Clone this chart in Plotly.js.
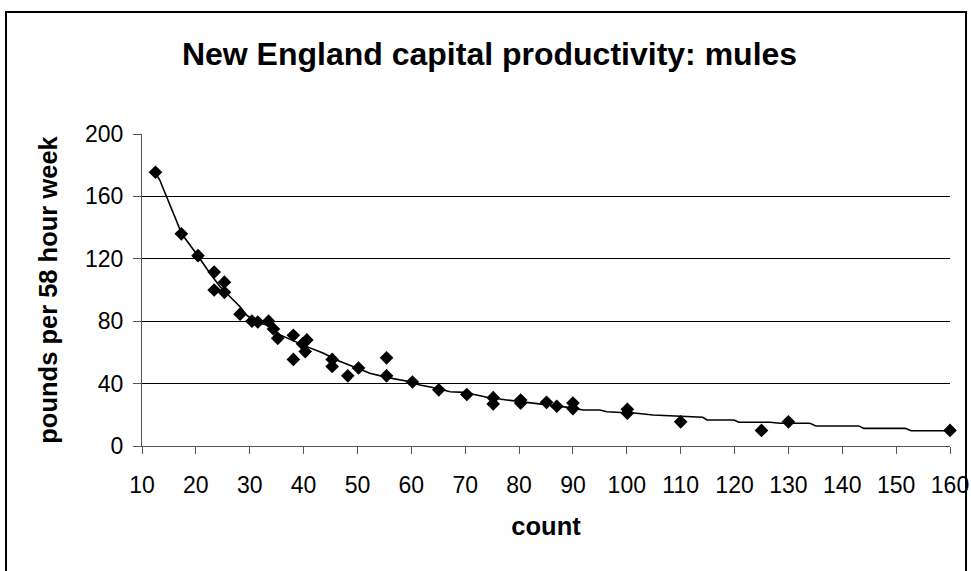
<!DOCTYPE html>
<html>
<head>
<meta charset="utf-8">
<script src="https://cdn.plot.ly/plotly-3.0.1.min.js"></script>
<style>
html,body{margin:0;padding:0;background:#fff;}
#chart{width:971px;height:571px;}
</style>
</head>
<body>
<div id="chart"></div>
<script>
// Observed points: count vs pounds per 58 hour week
var countObs = [12.5, 17.3, 20.4, 23.4, 25.3, 23.4, 25.3, 28.2, 30.4, 31.5, 33.5, 34.4, 35.2, 38.1, 38.1, 40.6, 39.8, 40.3, 45.3, 45.3, 48.2, 50.2, 55.4, 55.4, 60.2, 65.1, 70.3, 75.2, 75.2, 80.3, 80.3, 85.1, 87, 90, 90, 100.1, 100.1, 110, 125, 130, 160];
var poundsObs = [175.5, 136, 122, 111.5, 105, 100, 98.5, 84.5, 80, 79.5, 80, 75, 69, 71, 55.5, 68, 65.5, 60.5, 55.5, 51, 45, 50, 56.5, 45, 41, 36, 33, 31, 27, 29.5, 27.5, 28, 25.5, 27.5, 24, 23.5, 21, 15.5, 10, 15.5, 10];

// Fitted curve
var countFit = [12.4, 13.3, 14.3, 15.8, 16.6, 17.4, 20.5, 22.6, 24.5, 26.3, 28.2, 29.4, 31.0, 33.2, 35.0, 40.6, 43.7, 46.1, 49.9, 52.3, 55.4, 59.8, 61.6, 64.7, 67.2, 69.7, 72.1, 74.0, 77.7, 80.2, 83.3, 86.4, 89.5, 91.9, 95.0, 96.3, 99.4, 101.8, 104.9, 108.0, 109.9, 114.1, 114.9, 119.9, 120.8, 126.6, 128.4, 134.0, 135.1, 143.1, 144.0, 151.7, 152.8, 160];
var poundsFit = [175.8, 170.5, 162.0, 149.2, 141.7, 135.9, 121.3, 110.7, 102.1, 95.7, 89.3, 84.0, 79.7, 77.6, 72.2, 63.7, 59.4, 55.1, 49.8, 46.6, 44.0, 41.2, 39.1, 37.0, 34.8, 34.4, 32.7, 31.2, 29.5, 28.4, 27.4, 25.8, 24.6, 23.1, 23.1, 22.0, 21.6, 21.0, 19.9, 19.4, 18.8, 18.4, 16.7, 16.7, 15.2, 15.2, 14.6, 14.6, 12.8, 12.8, 11.3, 11.3, 9.8, 9.8];

var xTicks = [10, 20, 30, 40, 50, 60, 70, 80, 90, 100, 110, 120, 130, 140, 150, 160];
var yTicks = [0, 40, 80, 120, 160, 200];

var FONT = 'Liberation Sans, Arial, sans-serif';

var traces = [
  {
    x: countFit, y: poundsFit, type: 'scatter', mode: 'lines',
    line: {color: '#000', width: 1.6}, hoverinfo: 'skip', showlegend: false, cliponaxis: false
  },
  {
    x: countObs, y: poundsObs, type: 'scatter', mode: 'markers',
    marker: {symbol: 'diamond', size: 10.5, color: '#000', line: {width: 0}},
    showlegend: false, cliponaxis: false
  }
];

var layout = {
  width: 971, height: 571,
  paper_bgcolor: '#fff', plot_bgcolor: '#fff',
  margin: {l: 142, r: 21, t: 134, b: 125, autoexpand: false},
  showlegend: false,
  font: {family: FONT, color: '#000'},
  title: {
    text: 'New England capital productivity: mules',
    font: {family: FONT, size: 32, color: '#000', weight: 'bold'},
    x: 489.5/971, xref: 'container', xanchor: 'center',
    y: 1 - 54/571, yref: 'container', yanchor: 'middle'
  },
  xaxis: {
    range: [10, 160], tickvals: xTicks, ticktext: xTicks.map(String),
    showgrid: false, zeroline: false,
    showline: true, linecolor: '#555', linewidth: 1,
    ticks: 'outside', ticklen: 7, tickcolor: '#555', tickwidth: 1,
    ticklabelstandoff: 11,
    tickfont: {family: FONT, size: 23, color: '#000'},
    title: {text: 'count', font: {family: FONT, size: 25.5, color: '#000', weight: 'bold'}, standoff: 20},
    automargin: false, fixedrange: true
  },
  yaxis: {
    range: [0, 200], tickvals: yTicks, ticktext: yTicks.map(String),
    showgrid: true, gridcolor: '#000', gridwidth: 1,
    zeroline: false,
    showline: true, linecolor: '#555', linewidth: 1,
    ticks: 'outside', ticklen: 8, tickcolor: '#555', tickwidth: 1,
    ticklabelstandoff: 5,
    tickfont: {family: FONT, size: 23, color: '#000'},
    title: {text: 'pounds per 58 hour week', font: {family: FONT, size: 25.5, color: '#000', weight: 'bold'}, standoff: 20},
    automargin: false, fixedrange: true
  },
  shapes: [
    {type: 'rect', xref: 'paper', yref: 'paper',
     x0: (6-142)/808, x1: (966-142)/808, y0: (446-600)/312, y1: (446-12)/312,
     line: {color: '#000', width: 2}, fillcolor: 'rgba(0,0,0,0)', layer: 'below'}
  ]
};

Plotly.newPlot('chart', traces, layout, {displayModeBar: false, staticPlot: true});
</script>
</body>
</html>
